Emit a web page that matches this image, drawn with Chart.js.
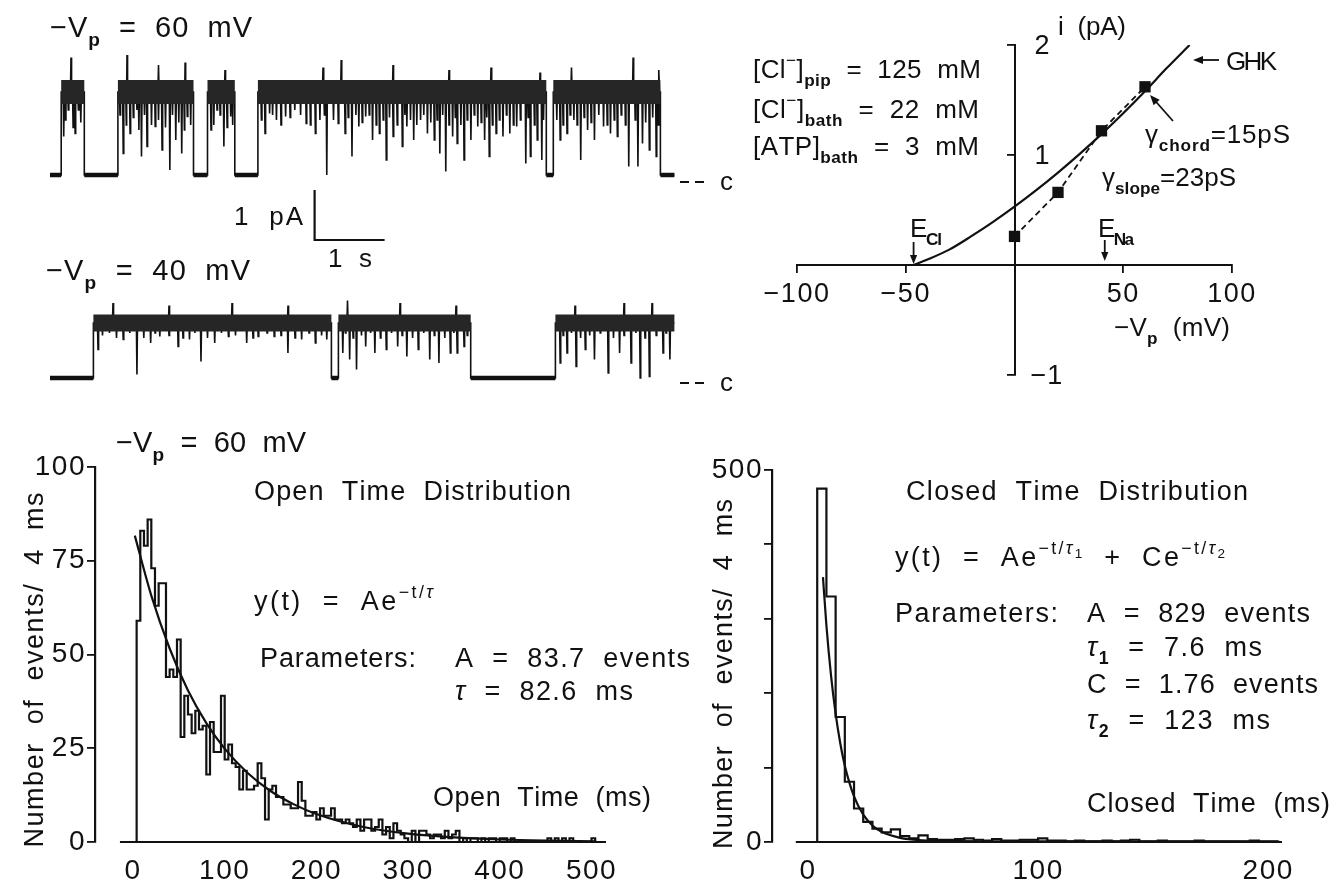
<!DOCTYPE html>
<html><head><meta charset="utf-8">
<script src="https://cdn.jsdelivr.net/npm/chart.js@4.4.1/dist/chart.umd.min.js"></script>
<style>
html,body{margin:0;padding:0;background:#fff;width:1335px;height:888px;overflow:hidden}
canvas{position:absolute}
</style></head><body>
<canvas id="tr1" style="left:0px;top:0px" width="760" height="300"></canvas>
<canvas id="tr2" style="left:0px;top:240px" width="760" height="170"></canvas>
<canvas id="iv" style="left:740px;top:0px" width="595" height="410"></canvas>
<canvas id="ho" style="left:0px;top:410px" width="700" height="478"></canvas>
<canvas id="hc" style="left:680px;top:410px" width="655" height="478"></canvas>
<script>
// ---------------- DATA ----------------
// Single-channel traces (time in s, current in pA)
const trace1Duration = 8.92;
const trace1OpenLevel = 1.66;
const trace1Openings = [[0.16,0.49],[0.97,2.05],[2.25,2.64],[2.97,7.09],[7.19,8.72]];
const trace1Flickers = [[0.196,0.77],[0.261,1.3],[0.359,0.83],[0.405,1.3],
 [1.046,0.43],[1.144,0.83],[1.242,1.3],[1.307,0.37],[1.386,0.57],[1.503,0.97],[1.601,0.5],[1.712,0.1],[1.797,0.7],[1.882,0.43],[1.961,1.17],
 [2.30,0.9],[2.386,1.3],[2.484,0.57],[2.582,1.17],
 [3.072,0.83],[3.137,1.23],[3.235,1.1],[3.366,1.17],[3.497,1.3],[3.66,1.03],[3.791,0.83],[3.856,1.1],[3.954,0.0],[4.118,1.03],[4.216,0.83],[4.314,0.37],[4.412,0.97],[4.51,1.17],[4.608,0.7],[4.706,0.83],[4.804,0.3],[4.902,0.77],[5.033,0.57],[5.098,0.97],[5.196,0.7],[5.294,1.1],[5.392,0.83],[5.49,0.7],[5.569,0.43],[5.654,0.07],[5.752,0.77],[5.817,0.63],[5.915,0.3],[6.013,0.7],[6.111,0.97],[6.209,0.7],[6.275,0.37],[6.373,0.83],[6.471,0.77],[6.569,0.83],[6.667,0.97],[6.797,0.23],[6.863,0.37],[6.961,0.7],[7.026,0.3],
 [7.288,0.7],[7.386,0.83],[7.484,1.1],[7.582,0.3],[7.68,0.9],[7.778,0.7],[7.908,0.97],[8.007,0.83],[8.105,0.77],[8.268,0.17],[8.399,0.17],[8.464,0.63],[8.562,0.5],[8.66,0.37]];
const trace1Noise = [[0.22,1.1],[0.33,0.95],[0.44,1.05],
 [1.0,1.2],[1.09,1.0],[1.19,1.15],[1.27,0.9],[1.35,1.2],[1.45,1.0],[1.55,1.1],[1.65,0.95],[1.75,1.2],[1.84,1.05],[1.92,0.9],[2.01,1.0],
 [2.34,1.0],[2.43,1.2],[2.53,0.95],[2.61,1.0],
 [3.02,1.1],[3.18,1.2],[3.30,1.0],[3.43,1.15],[3.58,1.2],[3.72,1.0],[3.92,1.2],[4.05,1.1],[4.26,1.15],[4.37,1.2],[4.46,1.05],[4.56,1.2],[4.66,1.0],[4.76,1.1],[4.85,1.15],[4.96,1.0],[5.07,1.2],[5.15,1.1],[5.24,1.0],[5.34,1.2],[5.44,1.05],[5.53,1.1],[5.61,1.2],[5.70,1.0],[5.79,1.15],[5.87,1.0],[5.96,1.1],[6.06,1.2],[6.16,1.05],[6.24,1.15],[6.32,1.0],[6.42,1.1],[6.52,1.2],[6.62,1.0],[6.72,1.1],[6.83,1.15],[6.92,1.0],[7.05,1.1],
 [7.24,1.1],[7.33,1.0],[7.43,1.2],[7.53,1.0],[7.63,1.15],[7.73,1.05],[7.84,1.2],[7.96,1.0],[8.06,1.1],[8.16,1.2],[8.22,1.0],[8.36,1.1],[8.51,1.05],[8.61,1.15],[8.69,1.0]];
const trace1Peaks = [[0.30,2.35],[1.10,2.4],[1.55,2.2],[1.93,2.25],[2.5,2.1],[3.9,2.15],[4.16,2.3],[4.9,2.2],[5.7,2.1],[6.3,2.15],[7.0,2.05],[7.45,2.15],[8.33,2.35],[8.7,2.1]];

const trace2Duration = 8.92;
const trace2OpenLevel = 1.1;
const trace2Openings = [[0.62,4.02],[4.12,6.01],[7.22,8.92]];
const trace2Flickers = [[0.686,0.57],[0.85,0.9],[1.046,0.77],[1.242,0.07],[1.438,0.7],[1.569,0.83],[1.83,0.63],[1.993,0.77],[2.157,0.33],[2.353,0.7],[2.549,0.83],[2.81,0.7],[2.974,0.83],[3.203,0.83],[3.399,0.5],[3.595,0.77],[3.791,0.7],[3.954,0.77],
 [4.183,0.5],[4.281,0.37],[4.379,0.17],[4.51,0.63],[4.641,0.5],[4.804,0.57],[4.967,0.63],[5.098,0.43],[5.261,0.57],[5.425,0.37],[5.556,0.3],[5.719,0.5],[5.817,0.5],[5.915,0.63],
 [7.288,0.3],[7.386,0.5],[7.516,0.23],[7.647,0.57],[7.778,0.37],[7.974,0.1],[8.137,0.5],[8.301,0.3],[8.431,0.0],[8.562,0.03],[8.758,0.5],[8.856,0.37]];
const trace2Noise = [[0.75,0.85],[0.95,0.8],[1.14,0.9],[1.34,0.8],[1.5,0.9],[1.7,0.85],[1.9,0.8],[2.07,0.9],[2.25,0.8],[2.45,0.9],[2.65,0.85],[2.9,0.8],[3.1,0.9],[3.3,0.85],[3.5,0.8],[3.7,0.9],[3.88,0.85],[4.22,0.9],[4.33,0.8],[4.45,0.85],[4.58,0.9],[4.72,0.8],[4.88,0.9],[5.03,0.85],[5.18,0.8],[5.34,0.9],[5.49,0.85],[5.64,0.8],[5.77,0.9],[5.96,0.85],[7.33,0.85],[7.45,0.9],[7.58,0.8],[7.71,0.85],[7.86,0.9],[8.05,0.8],[8.2,0.85],[8.37,0.9],[8.5,0.8],[8.66,0.85],[8.8,0.9]];
const trace2Peaks = [[0.9,1.5],[1.7,1.45],[2.6,1.5],[3.4,1.45],[4.25,1.55],[5.0,1.5],[5.8,1.45],[7.5,1.45],[8.2,1.5],[8.6,1.5]];

// I-V relation (mV, pA)
const ivV = [0, 20, 40, 60];
const ivI = [0.26, 0.66, 1.22, 1.62];
const ghkV = [-46.4, -40, -30, -20, -10, 0, 10, 20, 30, 40, 50, 60, 70, 80.5];
const ghkI = [0, 0.05, 0.14, 0.26, 0.39, 0.53, 0.68, 0.84, 1.01, 1.19, 1.38, 1.58, 1.79, 2.0];
const reversalECl = -46.4;
const reversalENa = 41.5;
const ivXTicks = [-100, -50, 0, 50, 100];
const ivYTicks = [-1, 0, 1, 2];
const ivYLabels = [-1, 1, 2];

// Open time histogram (4 ms bins starting at 4 ms)
const openBinStart = 4, openBinWidth = 4;
const openCounts = [59,83,79,86,73,63,69,69,44,46,44,54,28,39,34,29,35,30,31,18,32,24,24,39,22,26,21,20,14,19,14,14,15,21,17,6,14,15,12,12,10,10,9,9,16,11,7,7,8,6,9,7,7,9,6,6,5,6,5,4,6,3,6,6,3,4,6,2,4,1,5,3,2,1,0,3,0,3,3,2,1,2,2,1,3,1,2,3,0,1,0,1,1,0,1,0,1,1,0,1,1,0,1,0,0,0,0,0,0,0,0,0,1,0,1,0,1,0,1,0,0,0,0,0,1];
const openFitT = [2, 20, 40, 60, 80, 100, 125, 150, 175, 200, 250, 300, 350, 400, 450, 505];
const openFitY = [81.7, 65.7, 51.6, 40.4, 31.7, 24.9, 18.4, 13.6, 10.1, 7.45, 4.06, 2.21, 1.21, 0.66, 0.36, 0.18];
const openXTicks = [0, 100, 200, 300, 400, 500];
const openYTicks = [0, 25, 50, 75, 100];

// Closed time histogram
const closedBinStart = 4, closedBinWidth = 4;
const closedCounts = [475,330,168,81,45,27,18,13,17,8,5,9,4,3,3,4,5,3,2,4,2,2,3,3,5,2,2,1,2,1,1,2,1,2,3,1,1,2,1,1,1,2,1,1,1,1,1,2,1,1];
const closedFitT = [6.5, 8, 10, 12, 14, 16, 20, 24, 28, 32, 40, 50, 60, 80, 100, 150, 205];
const closedFitY = [356, 291, 224, 172.5, 133, 102.5, 61.2, 36.7, 22.2, 13.65, 5.6, 2.3, 1.4, 0.94, 0.78, 0.52, 0.33];
const closedXTicks = [0, 100, 200];
const closedYTicks = [0, 100, 200, 300, 400, 500];
const closedYLabels = [0, 500];

// ---------------- RENDERING ----------------
const FONT = "'Liberation Sans', Arial, sans-serif";
const INK = '#111';
Chart.defaults.font.family = FONT;
Chart.defaults.color = INK;

const offsets = { tr1:[0,0], tr2:[0,240], iv:[740,0], ho:[0,410], hc:[680,410] };

// rich text, stretched to span [x0, x1] when x1 is given
function rich(ctx, x0, x1, y, runs, size) {
  ctx.letterSpacing = '0px';
  ctx.textAlign = 'left'; ctx.textBaseline = 'alphabetic';
  const parts = runs.map(r => {
    const txt = r[0], st = r[1] || '';
    let fs = size, dy = 0;
    if (st.includes('sub')) { fs = size * 0.66; dy = size * 0.3; }
    if (st.includes('sup')) { fs = size * 0.66; dy = -size * 0.45; }
    if (st.includes('ss')) { fs = size * 0.5; dy = -size * 0.3; }
    const font = (st.includes('it') ? 'italic ' : '') + (st.includes('bd') ? 'bold ' : '') + fs.toFixed(1) + 'px ' + FONT;
    ctx.font = font;
    const chars = Array.from(txt);
    return { chars, font, dy, cw: chars.map(c => ctx.measureText(c).width) };
  });
  let nat = 0, n = 0;
  parts.forEach(p => { p.cw.forEach(w => { nat += w; n++; }); });
  const ls = (x1 != null) ? (x1 - x0 - nat) / Math.max(1, n - 1) : 1;
  let cx = x0;
  parts.forEach(p => {
    ctx.font = p.font;
    p.chars.forEach((c, i) => { ctx.fillText(c, cx, y + p.dy); cx += p.cw[i] + ls; });
  });
}

function arrow(ctx, x1, y1, x2, y2, head) {
  head = head || 9;
  const a = Math.atan2(y2 - y1, x2 - x1);
  ctx.lineWidth = 1.8;
  ctx.beginPath(); ctx.moveTo(x1, y1); ctx.lineTo(x2 - Math.cos(a) * head * 0.6, y2 - Math.sin(a) * head * 0.6); ctx.stroke();
  ctx.beginPath(); ctx.moveTo(x2, y2);
  ctx.lineTo(x2 - head * Math.cos(a) + head * 0.4 * Math.sin(a), y2 - head * Math.sin(a) - head * 0.4 * Math.cos(a));
  ctx.lineTo(x2 - head * Math.cos(a) - head * 0.4 * Math.sin(a), y2 - head * Math.sin(a) + head * 0.4 * Math.cos(a));
  ctx.closePath(); ctx.fill();
}

const VP = [['−V'], ['p', 'sub bd']];
const texts = {
  tr1: [
    {x:50, x1:252, y:37, size:29, runs: VP.concat([['  =  60  mV']])},
    {x:234, x1:303, y:225, size:26, runs:[['1  pA']]},
    {x:328, x1:372, y:267, size:26, runs:[['1  s']]},
    {x:46, x1:250, y:280, size:29, runs: VP.concat([['  =  40  mV']])}
  ],
  iv: [
    {x:753, x1:981, y:78, size:26, runs:[['[Cl'],['−','sup'],[']'],['pip','sub bd'],['  =  125  mM']]},
    {x:753, x1:979, y:118, size:26, runs:[['[Cl'],['−','sup'],[']'],['bath','sub bd'],['  =  22  mM']]},
    {x:753, x1:979, y:155, size:26, runs:[['[ATP]'],['bath','sub bd'],['  =  3  mM']]},
    {x:1058, x1:1126, y:35, size:26, runs:[['i  (pA)']]},
    {x:1114, x1:1230, y:336, size:26, runs: VP.concat([['  (mV)']])},
    {x:1226, x1:1277, y:70, size:26, runs:[['GHK']]},
    {x:1145, x1:1290, y:143, size:26, runs:[['γ'],['chord','sub bd'],['=15pS']]},
    {x:1102, x1:1236, y:186, size:26, runs:[['γ'],['slope','sub bd'],['=23pS']]},
    {x:910, x1:942, y:237, size:26, runs:[['E'],['Cl','sub bd']]},
    {x:1098, x1:1134, y:237, size:26, runs:[['E'],['Na','sub bd']]}
  ],
  ho: [
    {x:116, x1:306, y:452, size:29, runs: VP.concat([['  =  60  mV']])},
    {x:254, x1:571, y:500, size:27, runs:[['Open  Time  Distribution']]},
    {x:254, x1:433, y:610, size:27, runs:[['y(t)  =  Ae'],['−t/','sup'],['τ','sup it']]},
    {x:260, x1:416, y:667, size:27, runs:[['Parameters:']]},
    {x:455, x1:690, y:667, size:27, runs:[['A  =  83.7  events']]},
    {x:455, x1:633, y:700, size:27, runs:[['τ','it'],['  =  82.6  ms']]},
    {x:433, x1:651, y:806, size:27, runs:[['Open  Time  (ms)']]}
  ],
  hc: [
    {x:906, x1:1248, y:500, size:27, runs:[['Closed  Time  Distribution']]},
    {x:895, x1:1225, y:566, size:27, runs:[['y(t)  =  Ae'],['−t/','sup'],['τ','sup it'],['1','ss'],['  +  Ce'],['−t/','sup'],['τ','sup it'],['2','ss']]},
    {x:895, x1:1058, y:622, size:27, runs:[['Parameters:']]},
    {x:1087, x1:1310, y:622, size:27, runs:[['A  =  829  events']]},
    {x:1087, x1:1262, y:656, size:27, runs:[['τ','it'],['1','sub bd'],['  =  7.6  ms']]},
    {x:1087, x1:1318, y:693, size:27, runs:[['C  =  1.76  events']]},
    {x:1087, x1:1270, y:729, size:27, runs:[['τ','it'],['2','sub bd'],['  =  123  ms']]},
    {x:1087, x1:1330, y:812, size:27, runs:[['Closed  Time  (ms)']]}
  ]
};
// rotated axis titles: centre x, centre y, length
const yTitles = {
  ho: {cx: 33, cy: 670, len: 355},
  hc: {cx: 722, cy: 674, len: 350}
};
const Y_TITLE = 'Number  of  events/  4  ms';

const markerT = 9.0;
function closedMark(chart, ctx, dy) {
  const x0 = chart.scales.x.getPixelForValue(markerT), y0 = chart.scales.y.getPixelForValue(0) + dy;
  ctx.lineWidth = 2; ctx.setLineDash([9, 6]);
  ctx.beginPath(); ctx.moveTo(x0, y0); ctx.lineTo(x0 + 24, y0); ctx.stroke(); ctx.setLineDash([]);
  ctx.letterSpacing = '0px';
  ctx.font = '26px ' + FONT; ctx.textBaseline = 'middle'; ctx.textAlign = 'left';
  ctx.fillText('c', x0 + 40, y0 + 1);
}

const scaleBar = { t: 3.78, i: -0.3 };
const histAxis = { ho: [-14.2, 515.8], hc: [-5.3, 206] };

const extras = {
  tr1(chart, ctx) {
    const xs = chart.scales.x, ys = chart.scales.y;
    ctx.lineWidth = 2.2;
    ctx.beginPath();
    ctx.moveTo(xs.getPixelForValue(scaleBar.t), ys.getPixelForValue(scaleBar.i));
    ctx.lineTo(xs.getPixelForValue(scaleBar.t), ys.getPixelForValue(scaleBar.i - 1));
    ctx.lineTo(xs.getPixelForValue(scaleBar.t + 1), ys.getPixelForValue(scaleBar.i - 1));
    ctx.stroke();
    closedMark(chart, ctx, 7);
  },
  tr2(chart, ctx) { closedMark(chart, ctx, 5); },
  iv(chart, ctx, ox, oy) {
    const xs = chart.scales.x, ys = chart.scales.y;
    const x0 = xs.getPixelForValue(0);
    ctx.letterSpacing = '1px';
    ctx.font = '27px ' + FONT; ctx.textAlign = 'left'; ctx.textBaseline = 'middle';
    ivYLabels.forEach(v => ctx.fillText(v < 0 ? '−' + Math.abs(v) : String(v), v < 0 ? x0 + 16 : x0 + 20, ys.getPixelForValue(v) + 2));
    const xc = xs.getPixelForValue(reversalECl), xn = xs.getPixelForValue(reversalENa);
    arrow(ctx, xc, 242 - oy, xc, 264 - oy, 9);
    arrow(ctx, xn, 240 - oy, xn, 261 - oy, 9);
    arrow(ctx, 1219 - ox, 60 - oy, 1193 - ox, 60 - oy, 10);
    arrow(ctx, 1173 - ox, 121 - oy, 1150 - ox, 95 - oy, 10);
  },
  ho(chart, ctx) { histLine(chart, ctx, histAxis.ho); },
  hc(chart, ctx) { histLine(chart, ctx, histAxis.hc); }
};
function histLine(chart, ctx, span) {
  const xs = chart.scales.x, ys = chart.scales.y;
  const y0 = ys.getPixelForValue(0);
  ctx.lineWidth = 2.2;
  ctx.beginPath(); ctx.moveTo(xs.getPixelForValue(span[0]), y0); ctx.lineTo(xs.getPixelForValue(span[1]), y0); ctx.stroke();
}

const decor = {
  id: 'decor',
  beforeLayout(chart) { chart.ctx.letterSpacing = '1.5px'; },
  beforeDraw(chart) { chart.ctx.letterSpacing = '1.5px'; },
  afterDraw(chart) {
    const id = chart.canvas.id, ctx = chart.ctx;
    const ox = offsets[id][0], oy = offsets[id][1];
    ctx.save();
    ctx.fillStyle = INK; ctx.strokeStyle = INK;
    ctx.translate(-ox, -oy);
    (texts[id] || []).forEach(t => rich(ctx, t.x, t.x1, t.y, t.runs, t.size || 26));
    const yt = yTitles[id];
    if (yt) {
      ctx.save();
      ctx.translate(yt.cx, yt.cy); ctx.rotate(-Math.PI / 2);
      rich(ctx, -yt.len / 2, yt.len / 2, 10, [[Y_TITLE]], 27);
      ctx.restore();
    }
    ctx.restore();
    if (extras[id]) {
      ctx.save(); ctx.fillStyle = INK; ctx.strokeStyle = INK;
      extras[id](chart, ctx, ox, oy);
      ctx.restore();
    }
  }
};

function common(pad) {
  return {
    responsive: false, animation: false, devicePixelRatio: 1, events: [],
    layout: { padding: pad },
    plugins: { legend: { display: false }, tooltip: { enabled: false } }
  };
}

// ---- traces ----
function buildTrace(dur, lvl, openings, events) {
  const ev = events.slice().sort((a, b) => a[0] - b[0]);
  const pts = [{x: 0, y: 0}];
  openings.forEach(([a, b]) => {
    pts.push({x: a, y: 0}, {x: a, y: lvl});
    ev.filter(e => e[0] > a && e[0] < b).forEach(([t, v]) => {
      pts.push({x: t - 0.008, y: lvl}, {x: t, y: v}, {x: t + 0.008, y: lvl});
    });
    pts.push({x: b, y: lvl});
    if (b < dur) pts.push({x: b, y: 0});
  });
  if (openings[openings.length - 1][1] < dur) pts.push({x: dur, y: 0});
  return pts;
}
function buildBand(lvl, openings) {
  const pts = [];
  openings.forEach(([a, b]) => { pts.push({x: a, y: lvl}, {x: b, y: lvl}, {x: b, y: null}); });
  return pts;
}
function buildClosed(dur, openings) {
  const pts = []; let prev = 0;
  openings.forEach(([a, b]) => { if (a > prev) pts.push({x: prev, y: 0}, {x: a, y: 0}, {x: a, y: null}); prev = b; });
  if (prev < dur) pts.push({x: prev, y: 0}, {x: dur, y: 0});
  return pts;
}
function traceChart(id, dur, lvl, openings, events, yMin, yMax, pad, bandW) {
  const o = common(pad);
  o.scales = {
    x: { type: 'linear', display: false, min: 0, max: 10 },
    y: { type: 'linear', display: false, min: yMin, max: yMax }
  };
  return new Chart(document.getElementById(id), {
    type: 'line',
    data: { datasets: [
      { data: buildClosed(dur, openings), borderColor: INK, borderWidth: 4.5, pointRadius: 0, spanGaps: false, parsing: false },
      { data: buildBand(lvl, openings), borderColor: '#262626', borderWidth: bandW, pointRadius: 0, spanGaps: false, borderCapStyle: 'butt', parsing: false },
      { data: buildTrace(dur, lvl, openings, events), borderColor: INK, borderWidth: 1.6, pointRadius: 0, parsing: false }
    ]},
    options: o,
    plugins: [decor]
  });
}
traceChart('tr1', trace1Duration, trace1OpenLevel, trace1Openings, trace1Flickers.concat(trace1Noise, trace1Peaks), -1.5, 2.5, {left: 50, right: 10, top: 50, bottom: 50}, 24);
traceChart('tr2', trace2Duration, trace2OpenLevel, trace2Openings, trace2Flickers.concat(trace2Noise, trace2Peaks), -0.44, 1.76, {left: 50, right: 10, top: 50, bottom: 10}, 17);

// ---- I-V ----
(function () {
  const o = common({left: 57, right: 103, top: 45, bottom: 35});
  o.scales = {
    x: { type: 'linear', min: -100, max: 100, position: {y: 0},
      afterBuildTicks: s => { s.ticks = ivXTicks.map(v => ({value: v})); },
      ticks: { callback: v => v === 0 ? '' : (v < 0 ? '−' + Math.abs(v) : String(v)), font: {family: FONT, size: 27}, color: INK, padding: 6, maxRotation: 0, autoSkip: false },
      grid: { drawOnChartArea: false, tickLength: 7, color: INK, lineWidth: 1.8 },
      border: { color: INK, width: 2 } },
    y: { type: 'linear', min: -1, max: 2, position: {x: 0},
      afterBuildTicks: s => { s.ticks = ivYTicks.map(v => ({value: v})); },
      ticks: { display: false },
      grid: { drawOnChartArea: false, tickLength: 7, color: INK, lineWidth: 1.8 },
      border: { color: INK, width: 2 } }
  };
  new Chart(document.getElementById('iv'), {
    type: 'line',
    data: { datasets: [
      { data: ghkV.map((v, i) => ({x: v, y: ghkI[i]})), borderColor: INK, borderWidth: 2.2, pointRadius: 0, cubicInterpolationMode: 'monotone' },
      { data: ivV.map((v, i) => ({x: v, y: ivI[i]})), borderColor: INK, borderWidth: 1.8, borderDash: [6, 4], pointStyle: 'rect', pointRadius: 8, pointBackgroundColor: INK, pointBorderColor: INK, pointBorderWidth: 0 }
    ]},
    options: o,
    plugins: [decor]
  });
})();

// ---- histograms ----
function stepPoints(start, width, counts) {
  const pts = [{x: start, y: 0}];
  counts.forEach((c, i) => pts.push({x: start + i * width, y: c}));
  pts.push({x: start + counts.length * width, y: 0});
  return pts;
}
function histChart(id, cfg) {
  const o = common(cfg.pad);
  o.scales = {
    x: { type: 'linear', min: cfg.xMin, max: cfg.xMax,
      afterBuildTicks: s => { s.ticks = cfg.xTicks.map(v => ({value: v})); },
      afterFit: s => { s.height = cfg.xHeight; },
      ticks: { font: {family: FONT, size: 28}, color: INK, padding: 12, maxRotation: 0, autoSkip: false, callback: v => String(v) },
      grid: { display: false, drawTicks: false },
      border: { display: false } },
    y: { type: 'linear', min: 0, max: cfg.yMax,
      afterBuildTicks: s => { s.ticks = cfg.yTicks.map(v => ({value: v})); },
      afterFit: s => { s.width = cfg.yWidth; },
      ticks: { font: {family: FONT, size: 28}, color: INK, padding: 1, autoSkip: false, callback: v => cfg.yLabels.includes(v) ? String(v) : '' },
      grid: { drawOnChartArea: false, tickLength: 8, color: INK, lineWidth: 1.8 },
      border: { color: INK, width: 2.2 } }
  };
  new Chart(document.getElementById(id), {
    type: 'line',
    data: { datasets: [
      { data: stepPoints(cfg.binStart, cfg.binWidth, cfg.counts), stepped: 'before', borderColor: INK, borderWidth: 2.2, pointRadius: 0 },
      { data: cfg.fitT.map((t, i) => ({x: t, y: cfg.fitY[i]})), borderColor: INK, borderWidth: 2.2, pointRadius: 0, cubicInterpolationMode: 'monotone' }
    ]},
    options: o,
    plugins: [decor]
  });
}
histChart('ho', { pad: {left: 0, right: 94, top: 57, bottom: 0}, xMin: -41.4, xMax: 515.8, xTicks: openXTicks, xHeight: 46,
  yMax: 100, yTicks: openYTicks, yLabels: openYTicks, yWidth: 95,
  binStart: openBinStart, binWidth: openBinWidth, counts: openCounts, fitT: openFitT, fitY: openFitY });
histChart('hc', { pad: {left: 0, right: 53, top: 60, bottom: 0}, xMin: -15.65, xMax: 206, xTicks: closedXTicks, xHeight: 46,
  yMax: 500, yTicks: closedYTicks, yLabels: closedYLabels, yWidth: 92,
  binStart: closedBinStart, binWidth: closedBinWidth, counts: closedCounts, fitT: closedFitT, fitY: closedFitY });
</script>
</body></html>
